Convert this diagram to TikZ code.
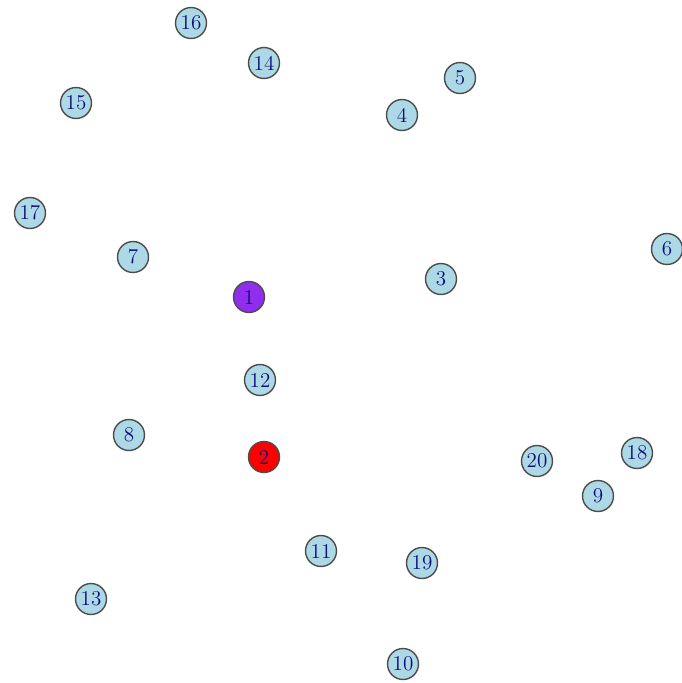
\documentclass[tikz,border=0pt]{standalone}
\definecolor{vlight}{RGB}{173,216,230}
\definecolor{vpurple}{RGB}{145,45,238}
\definecolor{vlabel}{RGB}{15,15,120}
\tikzset{vert/.style={circle,draw=black!70,line width=0.8pt,fill=vlight,text=vlabel,
    minimum size=0.62cm,inner sep=0pt,font=\large}}
\begin{document}
\begin{tikzpicture}[x=0.02cm,y=-0.02cm, line join=round, line cap=round]
        \useasboundingbox (0,0) rectangle (681,683);
        %\draw[line width=0.1pt,dashed] (0,0) grid[step=50] (681,683);
        \foreach \i/\px/\py in {3/441/279,4/402/115,5/460/78,6/667/249,7/133/257,
            8/129/435,9/598/496,10/403/664,11/321/551,12/260/380,13/91/599,
            14/264/63,15/76/103,16/191/23,17/30/213,18/637/453,19/422/563,20/537/461}
            \node[vert] (n\i) at (\px,\py) {\i};
        \node[vert,fill=vpurple] (n1) at (249,297) {1};
        \node[vert,fill=red] (n2) at (264,457) {2};
    \end{tikzpicture}
\end{document}
